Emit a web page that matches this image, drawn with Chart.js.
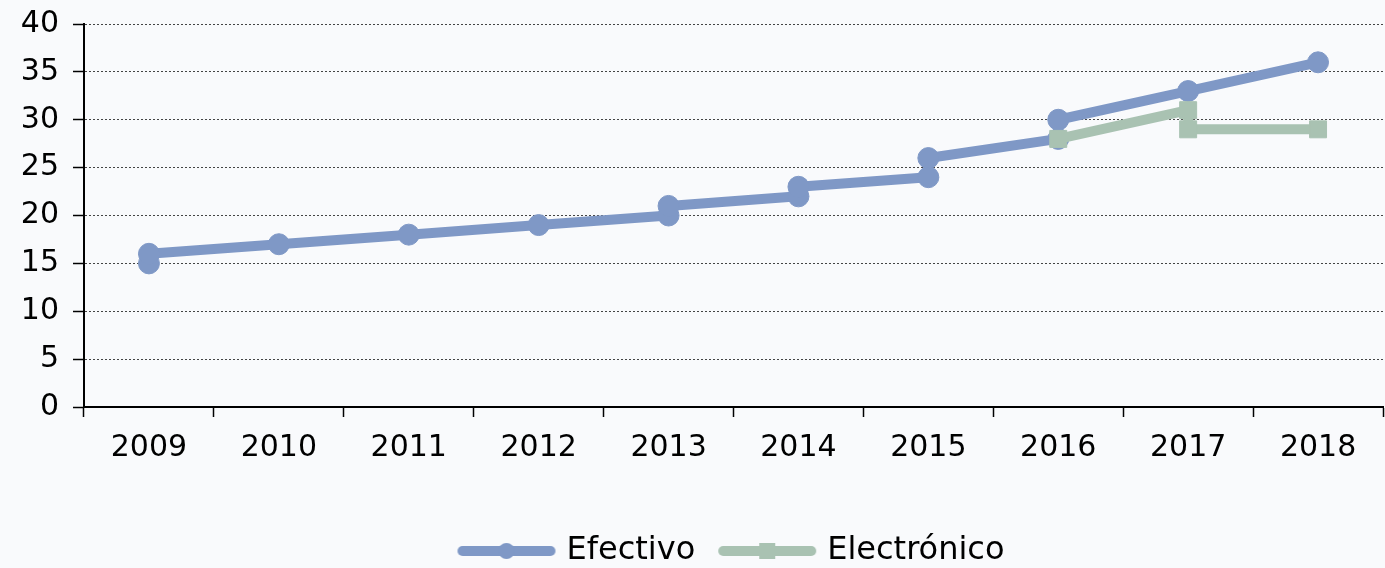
<!DOCTYPE html>
<html>
<head>
<meta charset="utf-8">
<script src="https://cdn.jsdelivr.net/npm/chart.js@4"></script>
<style>
  html, body { margin: 0; padding: 0; background: #f9fafc; }
  canvas { display: block; }
</style>
</head>
<body>
<canvas id="chart" width="1385" height="568"></canvas>
<script>
const years = ["2009", "2010", "2011", "2012", "2013", "2014", "2015", "2016", "2017", "2018"];
const yTicks = [0, 5, 10, 15, 20, 25, 30, 35, 40];

// some years carry two readings, drawn as a vertical step at that year
const efectivoYears = ["2009", "2009", "2010", "2011", "2012", "2013", "2013", "2014", "2014", "2015", "2015", "2016", "2016", "2017", "2018"];
const efectivoValues = [15, 16, 17, 18, 19, 20, 21, 22, 23, 24, 26, 28, 30, 33, 36];

const electronicoYears = ["2016", "2017", "2017", "2018"];
const electronicoValues = [28, 31, 29, 29];

const blue = "#7f98c6";
const green = "#a9c2b2";

function toPoints(xs, ys) {
  return xs.map(function (x, i) {
    return { x: x, y: ys[i] };
  });
}

function legendIcon(color, shape) {
  const c = document.createElement("canvas");
  c.width = 100;
  c.height = 24;
  const ctx = c.getContext("2d");
  ctx.strokeStyle = color;
  ctx.fillStyle = color;
  ctx.lineWidth = 10;
  ctx.lineCap = "round";
  ctx.beginPath();
  ctx.moveTo(6, 12);
  ctx.lineTo(94, 12);
  ctx.stroke();
  if (shape === "circle") {
    ctx.beginPath();
    ctx.arc(50, 12, 8, 0, Math.PI * 2);
    ctx.fill();
  } else {
    ctx.fillRect(42, 4, 16, 16);
  }
  return c;
}

const icons = [legendIcon(blue, "circle"), legendIcon(green, "rect")];

Chart.defaults.font.family = "'DejaVu Sans', sans-serif";
Chart.defaults.color = "#000";

new Chart(document.getElementById("chart"), {
  type: "line",
  data: {
    labels: years,
    datasets: [
      {
        label: "Efectivo",
        data: toPoints(efectivoYears, efectivoValues),
        borderColor: blue,
        backgroundColor: blue,
        borderWidth: 10,
        pointRadius: 10.5,
        pointBorderWidth: 1,
        pointStyle: "circle",
        borderJoinStyle: "round",
        tension: 0,
        order: 1,
      },
      {
        label: "Electrónico",
        data: toPoints(electronicoYears, electronicoValues),
        borderColor: green,
        backgroundColor: green,
        borderWidth: 10,
        pointRadius: 12,
        pointBorderWidth: 1,
        pointStyle: "rect",
        borderJoinStyle: "round",
        tension: 0,
        order: 0,
      },
    ],
  },
  options: {
    responsive: false,
    animation: false,
    layout: {
      autoPadding: false,
      padding: { top: 24, right: 2, left: 0, bottom: 0 },
    },
    scales: {
      x: {
        type: "category",
        offset: true,
        grid: {
          offset: true,
          drawOnChartArea: false,
          drawTicks: true,
          tickLength: 10,
          tickColor: "#000",
          tickWidth: 1.5,
        },
        border: { color: "#000", width: 2 },
        ticks: {
          font: { size: 30 },
          padding: 13,
          maxRotation: 0,
        },
        afterFit: function (scale) {
          scale.height = 100;
          scale.paddingLeft = 0;
          scale.paddingRight = 0;
        },
      },
      y: {
        min: 0,
        max: 40,
        grid: {
          color: "#444",
          lineWidth: 1,
          drawTicks: true,
          tickLength: 11,
          tickColor: "#000",
          tickWidth: 1.5,
          tickBorderDash: [],
        },
        border: { color: "#000", width: 2, dash: [2, 2] },
        ticks: {
          font: { size: 30 },
          padding: 14,
        },
        afterBuildTicks: function (scale) {
          scale.ticks = yTicks.map(function (v) {
            return { value: v };
          });
        },
        afterFit: function (scale) {
          scale.width = 84;
          scale.paddingTop = 0;
          scale.paddingBottom = 0;
        },
      },
    },
    plugins: {
      tooltip: { enabled: false },
      legend: {
        position: "bottom",
        fullSize: false,
        maxHeight: 61,
        labels: {
          usePointStyle: true,
          pointStyleWidth: 88,
          padding: 28,
          font: { size: 32 },
          color: "#000",
          sort: function (a, b) {
            return a.datasetIndex - b.datasetIndex;
          },
          generateLabels: function (chart) {
            const items = Chart.defaults.plugins.legend.labels.generateLabels(chart);
            items.forEach(function (item) {
              item.pointStyle = icons[item.datasetIndex];
            });
            return items;
          },
        },
      },
    },
  },
});
</script>
</body>
</html>
